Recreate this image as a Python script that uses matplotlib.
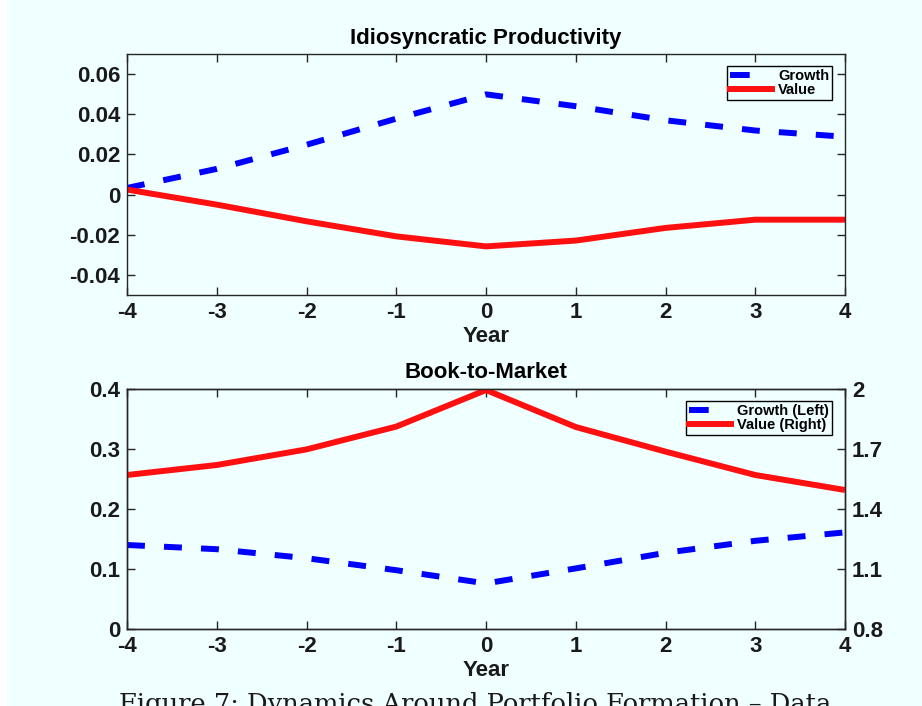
import matplotlib
matplotlib.use('Agg')
import matplotlib.pyplot as plt
from matplotlib.lines import Line2D
from matplotlib.patches import Rectangle

years = [-4, -3, -2, -1, 0, 1, 2, 3, 4]

# Idiosyncratic productivity around portfolio formation
prod_growth = [0.0033, 0.0128, 0.0248, 0.0378, 0.0499, 0.0440, 0.0370, 0.0319, 0.0288]
prod_value = [0.0025, -0.0050, -0.0133, -0.0208, -0.0258, -0.0229, -0.0166, -0.0125, -0.0125]

# Book-to-market (growth on left axis, value on right axis)
bm_growth = [0.140, 0.133, 0.118, 0.098, 0.076, 0.101, 0.127, 0.147, 0.161]
bm_value = [1.570, 1.620, 1.698, 1.812, 1.995, 1.810, 1.687, 1.570, 1.495]

x_ticks = [-4, -3, -2, -1, 0, 1, 2, 3, 4]
prod_ticks = [-0.04, -0.02, 0, 0.02, 0.04, 0.06]
prod_labels = ['-0.04', '-0.02', '0', '0.02', '0.04', '0.06']
bm_left_ticks = [0, 0.1, 0.2, 0.3, 0.4]
bm_left_labels = ['0', '0.1', '0.2', '0.3', '0.4']
bm_right_ticks = [0.8, 1.1, 1.4, 1.7, 2.0]
bm_right_labels = ['0.8', '1.1', '1.4', '1.7', '2']

bg = '#f0ffff'
spine_col = '#262626'
plt.rcParams['font.family'] = 'Liberation Sans'
plt.rcParams['font.weight'] = 'bold'

fig = plt.figure(figsize=(9.22, 7.06), dpi=100, facecolor=bg)
fig.add_artist(Rectangle((0, 0), 7 / 922, 1, transform=fig.transFigure,
                         facecolor='white', edgecolor='none', zorder=-1))

ax1 = fig.add_axes([127 / 922, 1 - 295 / 706, 718 / 922, 241 / 706])
ax2 = fig.add_axes([127 / 922, 1 - 629 / 706, 718 / 922, 240 / 706])


def style_axis(ax):
    ax.set_facecolor(bg)
    for s in ax.spines.values():
        s.set_color(spine_col)
        s.set_linewidth(1.0)
    ax.tick_params(direction='in', length=6, width=1, color=spine_col,
                   labelsize=16, pad=5, labelcolor='#1a1a1a')
    ax.set_xlim(-4, 4)
    ax.set_xticks(x_ticks)
    ax.set_xticklabels([str(v) for v in x_ticks])
    ax.set_xlabel('Year', fontsize=16, fontweight='bold', labelpad=2, color='#1a1a1a')


blue_dash = (0, (3.0, 3.2))
lw = 4.3

# top panel
style_axis(ax1)
ax1.plot(years, prod_growth, color='#0000ff', lw=lw, linestyle=blue_dash,
         dash_capstyle='butt', solid_capstyle='butt')
ax1.plot(years, prod_value, color='#ff1010', lw=lw, solid_capstyle='butt')
ax1.set_ylim(-0.05, 0.07)
ax1.set_yticks(prod_ticks)
ax1.set_yticklabels(prod_labels)
ax1.tick_params(top=True, right=True)
ax1.set_title('Idiosyncratic Productivity', fontsize=16, fontweight='bold', pad=7)

h_growth = Line2D([], [], color='#0000ff', lw=lw, linestyle=(0, (3.3, 20)))
h_value = Line2D([], [], color='#ff1010', lw=lw)
leg_kw = dict(loc='upper right', bbox_to_anchor=(0.982, 0.95), fontsize=10.5,
              handlelength=2.9, handletextpad=0.4, borderpad=0.2,
              labelspacing=0.0, fancybox=False, framealpha=1, facecolor=bg,
              edgecolor='black', borderaxespad=0)
leg1 = ax1.legend([h_growth, h_value], ['Growth', 'Value'], **leg_kw)
leg1.get_frame().set_linewidth(1.0)

# bottom panel
style_axis(ax2)
ax2.plot(years, bm_growth, color='#0000ff', lw=lw, linestyle=blue_dash,
         dash_capstyle='butt')
ax2.set_ylim(0, 0.4)
ax2.set_yticks(bm_left_ticks)
ax2.set_yticklabels(bm_left_labels)
ax2.tick_params(top=True, right=False)
ax2.set_title('Book-to-Market', fontsize=16, fontweight='bold', pad=8)

ax3 = ax2.twinx()
ax3.plot(years, bm_value, color='#ff1010', lw=lw, solid_capstyle='butt')
ax3.set_ylim(0.8, 2.0)
ax3.set_yticks(bm_right_ticks)
ax3.set_yticklabels(bm_right_labels)
ax3.tick_params(direction='in', length=6, width=1, color=spine_col,
                labelsize=16, pad=5, labelcolor='#1a1a1a')
for s in ax3.spines.values():
    s.set_color(spine_col)
    s.set_linewidth(1.0)

leg2 = ax3.legend([h_growth, h_value], ['Growth (Left)', 'Value (Right)'], **leg_kw)
leg2.get_frame().set_linewidth(1.0)

# caption line under the figure, partly running off the bottom edge
fig.text(475 / 922, 1 - 692 / 706,
         'Figure 7: Dynamics Around Portfolio Formation \u2013 Data',
         ha='center', va='top', fontsize=18.5, fontweight='normal',
         family='DejaVu Serif', color='#1a1a1a')

fig.savefig('out.png', dpi=100, facecolor=bg)
